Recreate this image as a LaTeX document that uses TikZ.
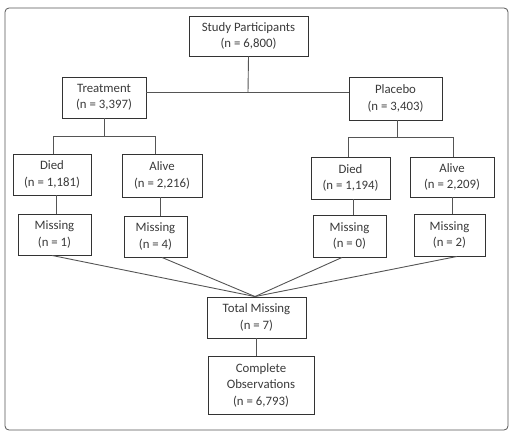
\documentclass[tikz,border=0pt]{standalone}
\usepackage{fontspec}
\setmainfont{Carlito}
\usetikzlibrary{positioning}

\definecolor{boxline}{HTML}{333333}
\definecolor{linkline}{HTML}{555555}
\definecolor{boxtext}{HTML}{3A3A3A}

\tikzset{
  stagebox/.style={draw=boxline,line width=0.9pt,fill=white,align=center,
    inner sep=0pt,text=boxtext,font=\fontsize{12.8}{16.5}\selectfont},
  link/.style={draw=linkline,line width=0.9pt},
}

\begin{document}
\begin{tikzpicture}[%
  x=1pt,
  y=-1pt,
]

  \useasboundingbox (0,0) rectangle (532,432);
  \draw[draw=linkline,line width=0.8pt,rounded corners=4pt] (5,8) rectangle (508,430);

  % top level
  \node[stagebox,minimum width=119pt,minimum height=40pt] (sp) at (248.5,36) {Study Participants\\(n = 6,800)};
  \node[stagebox,minimum width=84pt,minimum height=41pt] (tr) at (104,97.5) {Treatment\\(n = 3,397)};
  \node[stagebox,minimum width=93pt,minimum height=43pt] (pl) at (395.5,98.5) {Placebo\\(n = 3,403)};

  % outcome per arm
  \node[stagebox,minimum width=78pt,minimum height=41pt] (dt) at (52,174.5) {Died\\(n = 1,181)};
  \node[stagebox,minimum width=80pt,minimum height=43pt] (at) at (162,175.5) {Alive\\(n = 2,216)};
  \node[stagebox,minimum width=79pt,minimum height=42pt] (dp) at (350.5,178) {Died\\(n = 1,194)};
  \node[stagebox,minimum width=84pt,minimum height=40pt] (ap) at (452,177) {Alive\\(n = 2,209)};

  % missing per group
  \node[stagebox,minimum width=73pt,minimum height=41pt] (m1) at (54.5,234.5) {Missing\\(n = 1)};
  \node[stagebox,minimum width=63pt,minimum height=41pt] (m4) at (155.5,236.5) {Missing\\(n = 4)};
  \node[stagebox,minimum width=73pt,minimum height=42pt] (m0) at (349.5,236) {Missing\\(n = 0)};
  \node[stagebox,minimum width=71pt,minimum height=42pt] (m2) at (449.5,235) {Missing\\(n = 2)};

  % totals
  \node[stagebox,minimum width=99pt,minimum height=41pt] (tm) at (256.5,317.5) {Total Missing\\(n = 7)};
  \node[stagebox,minimum width=106pt,minimum height=58pt] (co) at (261,385) {Complete\\Observations\\(n = 6,793)};

  \coordinate (jsp) at (248,92);
  \coordinate (jtr) at (104,136);
  \coordinate (jpl) at (397,137);

  \draw[link] (sp.south) -- (jsp);
  \draw[link] (tr.east |- jsp) -- (pl.west |- jsp);

  \draw[link] (tr.south) -- (jtr);
  \draw[link] ([xshift=1pt]dt.north |- jtr) -- ([xshift=-7pt]at.north |- jtr);
  \draw[link] ([xshift=1pt]dt.north |- jtr) -- ([xshift=1pt]dt.north);
  \draw[link] ([xshift=-7pt]at.north |- jtr) -- ([xshift=-7pt]at.north);

  \draw[link] ([xshift=1.5pt]pl.south) -- (jpl);
  \draw[link] ([xshift=-2.5pt]dp.north |- jpl) -- ([xshift=1pt]ap.north |- jpl);
  \draw[link] ([xshift=-2.5pt]dp.north |- jpl) -- ([xshift=-2.5pt]dp.north);
  \draw[link] ([xshift=1pt]ap.north |- jpl) -- ([xshift=1pt]ap.north);

  \draw[link] ([xshift=4pt]dt.south) -- ([xshift=4pt]dt.south |- m1.north);
  \draw[link] ([xshift=-2pt]at.south) -- ([xshift=-2pt]at.south |- m4.north);
  \draw[link] ([xshift=2.5pt]dp.south) -- ([xshift=2.5pt]dp.south |- m0.north);
  \draw[link] (ap.south) -- (ap.south |- m2.north);

  \draw[link] ([xshift=-2.5pt]m1.south) -- ([xshift=-1.5pt]tm.north);
  \draw[link] ([xshift=6.5pt]m4.south) -- ([xshift=-1.5pt]tm.north);
  \draw[link] ([xshift=-7.5pt]m0.south) -- ([xshift=-1.5pt]tm.north);
  \draw[link] ([xshift=7.5pt]m2.south) -- ([xshift=-1.5pt]tm.north);

  \draw[link] (tm.south) -- (tm.south |- co.north);

\end{tikzpicture}
\end{document}
